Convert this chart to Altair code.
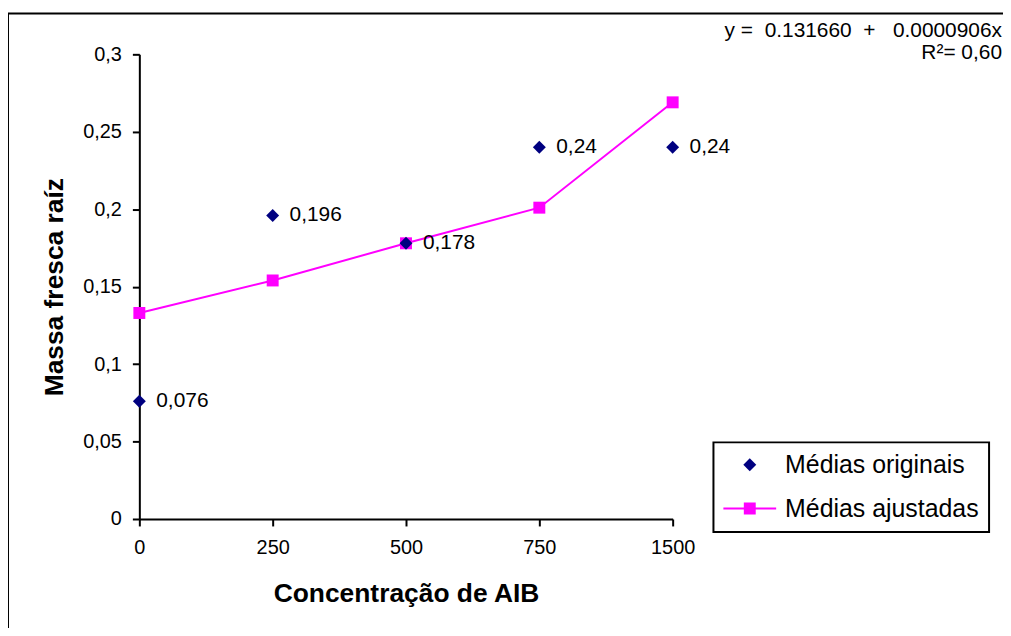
import altair as alt
import pandas as pd

# ---- data ----
categories = ["0", "250", "500", "750", "1500"]
original_means = [0.076, 0.196, 0.178, 0.24, 0.24]
adjusted_means = [0.133, 0.154, 0.178, 0.201, 0.269]
series_names = ["Médias originais", "Médias ajustadas"]
y_ticks = [0, 0.05, 0.1, 0.15, 0.2, 0.25, 0.3]
equation_text = "y =\u00a0\u00a00.131660\u00a0\u00a0+\u00a0\u00a0\u00a00.0000906x"
r2_text = "R²= 0,60"

FONT = "Liberation Sans"
NAVY = "#000080"
MAGENTA = "#FF00FF"
# legend symbol for the adjusted series: a short line with a square on it
LINE_SQUARE = "M-4.08,-0.15H4.08V0.15H-4.08Z M-0.92,-0.92H0.92V0.92H-0.92Z"

orig_df = pd.DataFrame({
    "conc": categories,
    "valor": original_means,
    "serie": series_names[0],
    "rotulo": [str(v).replace(".", ",") for v in original_means],
})
fit_df = pd.DataFrame({"conc": categories, "valor": adjusted_means})

x_enc = alt.X(
    "conc:N",
    scale=alt.Scale(type="point", domain=categories, padding=0),
    axis=alt.Axis(title="Concentração de AIB", labelAngle=0, labelPadding=12,
                  titleY=83, titleBaseline="alphabetic"),
)
y_enc = alt.Y(
    "valor:Q",
    scale=alt.Scale(domain=[0, 0.3], nice=False, zero=True),
    axis=alt.Axis(title="Massa fresca raíz", values=y_ticks, labelPadding=11,
                  labelExpr="replace(format(datum.value, '.2~f'), '.', ',')",
                  titleX=-77, titleY=233.5, titleAngle=270,
                  titleAlign="center", titleBaseline="alphabetic"),
)

frame = alt.Chart(alt.Data(values=[{}])).mark_rect(
    fillOpacity=0, stroke="black", strokeWidth=2
).encode(x=alt.value(-132), x2=alt.value(1100), y=alt.value(-41), y2=alt.value(800))

fit_line = alt.Chart(fit_df).mark_line(color=MAGENTA, strokeWidth=2).encode(x=x_enc, y=y_enc)
fit_pts = alt.Chart(fit_df).mark_point(
    shape="square", filled=True, color=MAGENTA, size=144, opacity=1
).encode(x=x_enc, y=y_enc)

orig_pts = alt.Chart(orig_df).mark_point(filled=True, size=169, opacity=1).encode(
    x=x_enc,
    y=y_enc,
    fill=alt.Fill("serie:N", scale=alt.Scale(domain=series_names, range=[NAVY, MAGENTA]), title=None),
    shape=alt.Shape("serie:N", scale=alt.Scale(domain=series_names, range=["diamond", LINE_SQUARE]), title=None),
)

labels = alt.Chart(orig_df).mark_text(
    align="left", baseline="middle", dx=17, fontSize=21, font=FONT, color="black"
).encode(x=x_enc, y=y_enc, text="rotulo:N")

eq1 = alt.Chart(alt.Data(values=[{}])).mark_text(
    text=equation_text, align="right", baseline="alphabetic", fontSize=21, font=FONT, color="black"
).encode(x=alt.value(867), y=alt.value(-17))
eq2 = alt.Chart(alt.Data(values=[{}])).mark_text(
    text=r2_text, align="right", baseline="alphabetic", fontSize=21, font=FONT, color="black"
).encode(x=alt.value(867), y=alt.value(5))

chart = alt.layer(frame, fit_line, fit_pts, orig_pts, labels, eq1, eq2).properties(
    width=536,
    height=467,
    padding={"left": 132, "top": 45, "right": 332, "bottom": 108},
    autosize=alt.AutoSizeParams(type="none"),
    background="white",
).configure_view(strokeOpacity=0).configure_axis(
    domainColor="black", domainWidth=2, tickColor="black", tickWidth=2, tickSize=7,
    labelFont=FONT, labelFontSize=20, labelColor="black",
    titleFont=FONT, titleFontSize=26.5, titleFontWeight="bold", titleColor="black",
    grid=False,
).configure_legend(
    orient="none", legendX=577, legendY=390, padding=10,
    strokeColor="black", strokeWidth=2, fillColor="white",
    labelFont=FONT, labelFontSize=25, labelColor="black", labelLimit=500,
    symbolSize=169, symbolOffset=14, labelOffset=23, rowPadding=18,
)

chart.save("out.html", embed_options={"renderer": "svg", "actions": False})
